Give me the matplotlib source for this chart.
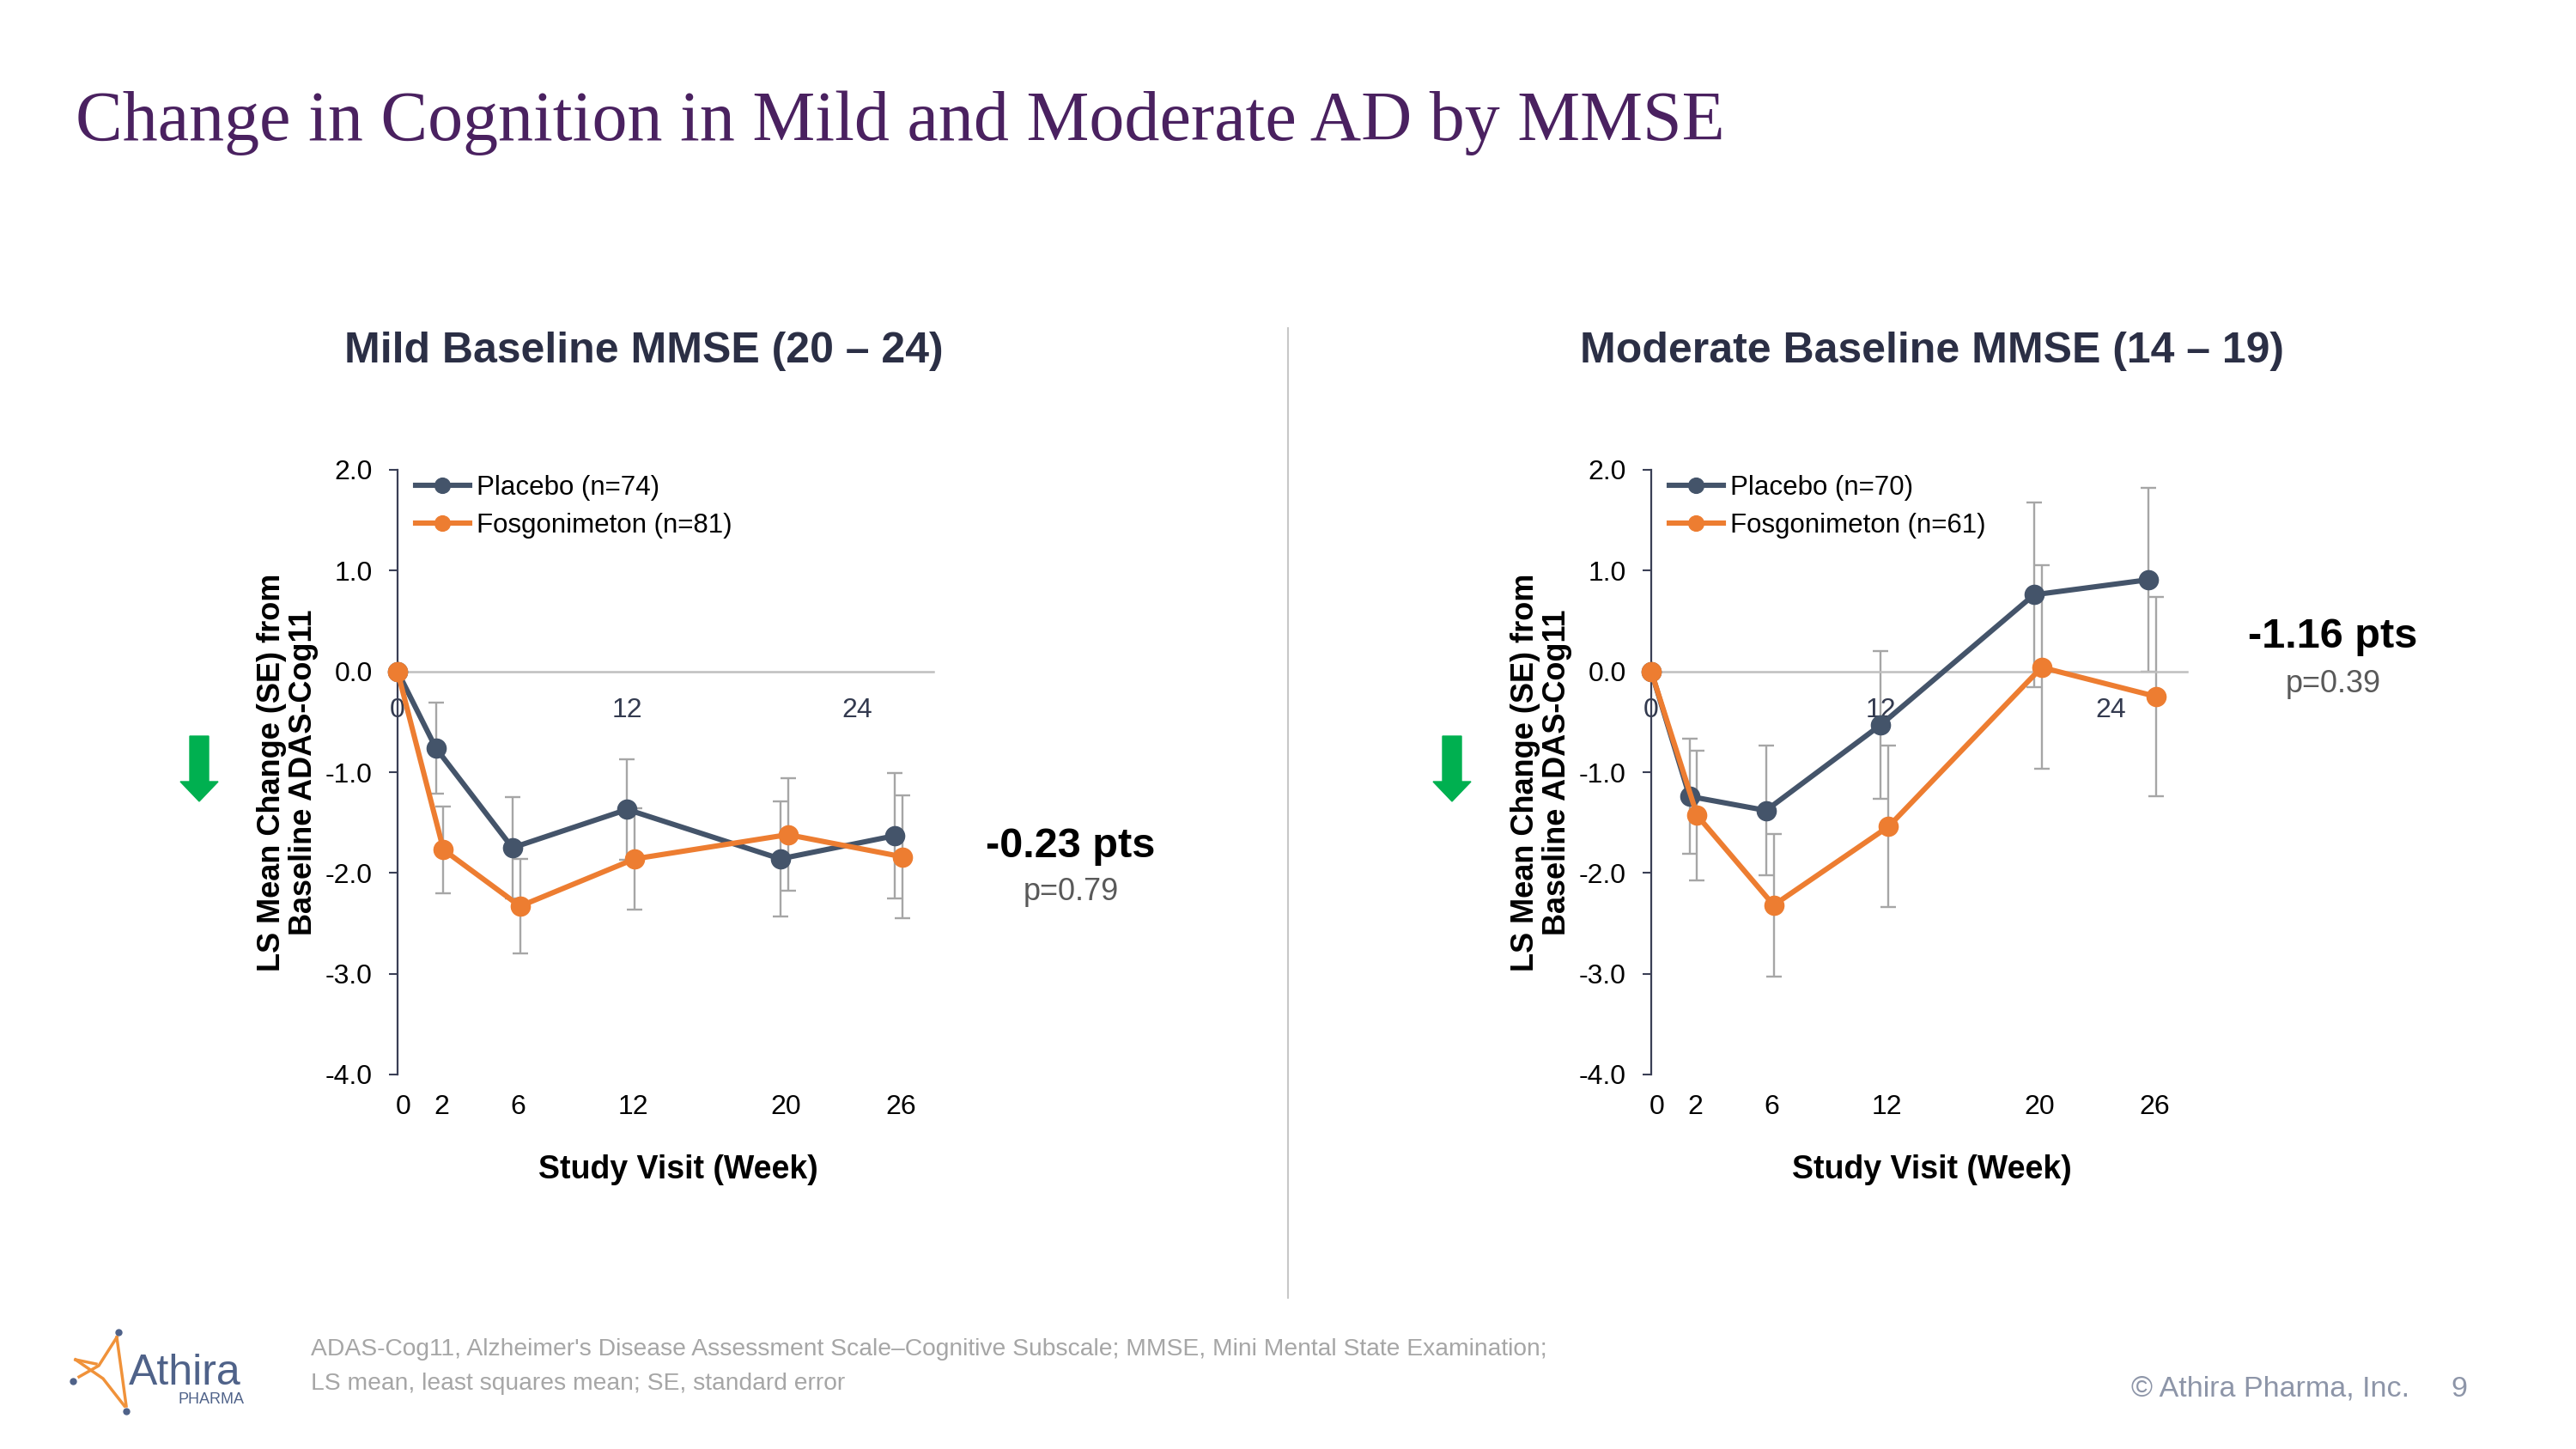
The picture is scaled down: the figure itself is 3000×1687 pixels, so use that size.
import numpy as np
import matplotlib
matplotlib.use("Agg")
from matplotlib import pyplot as plt
from matplotlib.patches import FancyArrow
from matplotlib.lines import Line2D
import matplotlib.transforms as mtransforms

plt.rcParams['font.family'] = ['Liberation Sans', 'DejaVu Sans']

# data
weeks = np.array([0, 2, 6, 12, 20, 26])
mild_placebo = [0, -0.76, -1.75, -1.37, -1.86, -1.63]
mild_placebo_se = [0, 0.45, 0.50, 0.50, 0.57, 0.62]
mild_fos = [0, -1.77, -2.33, -1.86, -1.62, -1.84]
mild_fos_se = [0, 0.43, 0.47, 0.50, 0.56, 0.61]
mod_placebo = [0, -1.24, -1.38, -0.53, 0.76, 0.91]
mod_placebo_se = [0, 0.57, 0.64, 0.73, 0.92, 0.91]
mod_fos = [0, -1.43, -2.32, -1.54, 0.04, -0.25]
mod_fos_se = [0, 0.64, 0.71, 0.80, 1.01, 0.99]

panel_titles = ["Mild Baseline MMSE (20 \u2013 24)", "Moderate Baseline MMSE (14 \u2013 19)"]
placebo_labels = ["Placebo (n=74)", "Placebo (n=70)"]
fos_labels = ["Fosgonimeton (n=81)", "Fosgonimeton (n=61)"]
diff_text = ["-0.23 pts", "-1.16 pts"]
p_text = ["p=0.79", "p=0.39"]
yticks = [2.0, 1.0, 0.0, -1.0, -2.0, -3.0, -4.0]
ytick_labels = ["2.0", "1.0", "0.0", "-1.0", "-2.0", "-3.0", "-4.0"]

PLACEBO = '#44546A'
FOS = '#ED7D31'
ERR = '#A6A6A6'
NAVY = '#2B2F45'

W, H = 3000, 1687
fig = plt.figure(figsize=(30, 16.87), dpi=100, facecolor='white')


def fx(px):
    return px / W


def fy(py):
    return 1 - py / H


# title
fig.text(fx(88), fy(163), "Change in Cognition in Mild and Moderate AD by MMSE",
         family='Liberation Serif', fontsize=59, color='#4A2160', va='baseline')


def draw_panel(left_px, placebo, placebo_se, fos, fos_se, idx):
    ax = fig.add_axes([fx(left_px), fy(1251), 624 / W, 704 / H])
    ax.set_xlim(0, 28)
    ax.set_ylim(-4, 2)

    fos_x = np.where(weeks > 0, weeks + 0.4, weeks)
    pm = np.array(placebo_se) > 0
    fm = np.array(fos_se) > 0
    ax.errorbar(weeks[pm], np.array(placebo)[pm], yerr=np.array(placebo_se)[pm], fmt='none',
                ecolor=ERR, elinewidth=1.7, capsize=6.5, capthick=1.7, zorder=2)
    ax.errorbar(fos_x[fm], np.array(fos)[fm], yerr=np.array(fos_se)[fm], fmt='none',
                ecolor=ERR, elinewidth=1.7, capsize=6.5, capthick=1.7, zorder=2)
    ax.plot(weeks, placebo, '-o', color=PLACEBO, lw=4.4, ms=16, zorder=3,
            label=placebo_labels[idx], clip_on=False)
    ax.plot(fos_x, fos, '-o', color=FOS, lw=4.4, ms=16, zorder=4,
            label=fos_labels[idx], clip_on=False)

    for s in ['top', 'right']:
        ax.spines[s].set_visible(False)
    ax.spines['bottom'].set_position(('data', 0))
    ax.spines['bottom'].set_color('#BFBFBF')
    ax.spines['bottom'].set_linewidth(1.8)
    ax.spines['left'].set_color('#3A3F55')
    ax.spines['left'].set_linewidth(1.6)

    ax.set_yticks(yticks)
    ax.set_yticklabels(ytick_labels)
    ax.tick_params(axis='y', direction='out', length=7, width=1.5, color='#3A3F55',
                   labelsize=23, pad=14, labelcolor='black')
    ax.set_xticks([0, 12, 24])
    ax.set_xticklabels(["0", "12", "24"])
    ax.tick_params(axis='x', length=0, labelsize=23, pad=22, labelcolor='#333A4F')

    ax.set_ylabel("LS Mean Change (SE) from\nBaseline ADAS-Cog11", fontsize=26,
                  fontweight='bold', color='black', linespacing=1.1)
    ax.yaxis.set_label_coords(-0.147, 0.5)

    trans = mtransforms.blended_transform_factory(ax.transData, ax.transAxes)
    for w in weeks:
        ax.text(w + 0.3, -0.032, str(w), transform=trans, ha='center', va='top',
                fontsize=23, color='black')
    ax.text(0.524, -0.158, "Study Visit (Week)", transform=ax.transAxes, ha='center',
            va='center', fontsize=27, fontweight='bold', color='black')

    ax.legend(loc='upper left', bbox_to_anchor=(0.034, 0.991), frameon=False,
              borderpad=0, borderaxespad=0, fontsize=22.5, handlelength=2.0,
              handletextpad=0.25, labelspacing=0.45, markerscale=0.8, numpoints=1)
    return ax


draw_panel(463, mild_placebo, mild_placebo_se, mild_fos, mild_fos_se, 0)
draw_panel(1923, mod_placebo, mod_placebo_se, mod_fos, mod_fos_se, 1)

# panel titles
for cx, t in zip([750, 2250], panel_titles):
    fig.text(fx(cx), fy(409), t, ha='center', va='center', fontsize=36,
             fontweight='bold', color=NAVY)

# treatment difference callouts
for cx, cy, d, p in [(1247, 985, diff_text[0], p_text[0]), (2717, 742, diff_text[1], p_text[1])]:
    fig.text(fx(cx), fy(cy), d, ha='center', va='center', fontsize=35,
             fontweight='bold', color='black')
    fig.text(fx(cx), fy(cy + 54), p, ha='center', va='center', fontsize=26,
             color='#595959')

# green "improvement" arrows (inch coords keep shape isotropic)
for ax_px in [232, 1691]:
    fig.add_artist(FancyArrow(ax_px / 100, (H - 857) / 100, 0, -0.76, width=0.22,
                              head_width=0.44, head_length=0.23, length_includes_head=True,
                              color='#00B050', transform=fig.dpi_scale_trans))

# divider
fig.add_artist(Line2D([0.5, 0.5], [fy(382), fy(1511)], color='#C8C8C8', lw=1.5))

# footnote
fig.text(fx(362), fy(1571), "ADAS-Cog11, Alzheimer's Disease Assessment Scale\u2013Cognitive Subscale; "
         "MMSE, Mini Mental State Examination;", fontsize=20.3, color='#A6A6A6', va='center')
fig.text(fx(362), fy(1611), "LS mean, least squares mean; SE, standard error",
         fontsize=20.3, color='#A6A6A6', va='center')
fig.text(fx(2806), fy(1617), "\u00a9 Athira Pharma, Inc.", fontsize=24.5, color='#8D95A8',
         ha='right', va='center')
fig.text(fx(2864), fy(1617), "9", fontsize=24.5, color='#8D95A8', ha='center', va='center')

# rough logo
orange = '#F0923A'
for xs, ys in [([136, 142, 147], [1557, 1600, 1637]),
               ([88, 120, 145], [1583, 1605, 1637]),
               ([92, 115, 136], [1603, 1590, 1557]),
               ([88, 112], [1583, 1588])]:
    fig.add_artist(Line2D([fx(v) for v in xs], [fy(v) for v in ys], color=orange, lw=2.5))
for px, py in [(138, 1551), (85, 1608), (147, 1643)]:
    fig.add_artist(Line2D([fx(px)], [fy(py)], marker='o', ms=5, color='#4F6289'))
fig.text(fx(150), fy(1612), "Athira", fontsize=36, color='#4F6289', va='baseline')
fig.text(fx(246), fy(1630), "PHARMA", fontsize=13, color='#4F6289', ha='center', va='center')

plt.savefig("out.png", dpi=100, facecolor='white')
